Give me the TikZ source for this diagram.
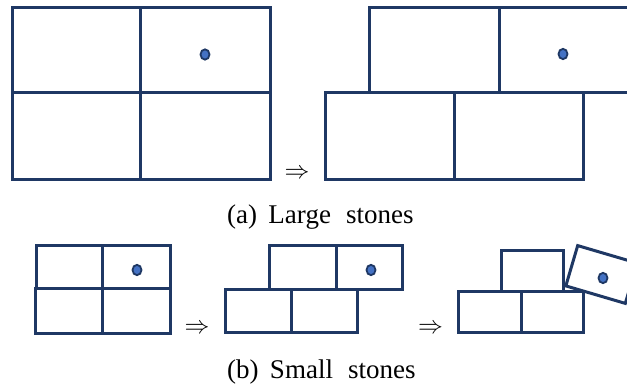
\documentclass[tikz,border=0pt]{standalone}
\usepackage{fontspec}
\setmainfont{Liberation Serif}
\definecolor{stoneline}{HTML}{1F3864}
\definecolor{markfill}{HTML}{4472C4}
\begin{document}
\begin{tikzpicture}[x=1pt,y=-1pt,
  stone/.style={draw=stoneline,line width=3pt,line join=miter},
  marker/.style={draw=stoneline,fill=markfill,line width=1.8pt},
  implies/.style={font=\fontsize{27}{30}\selectfont,inner sep=0pt},
  caption/.style={font=\fontsize{27}{30}\selectfont,inner sep=0pt,anchor=base west}]
\useasboundingbox (0,0) rectangle (627,390);

% (a) large stones: initial wall
\draw[stone] (12,8) rectangle (140.5,93);
\draw[stone] (140.5,8) rectangle (270,93);
\draw[stone] (12,93) rectangle (140.5,180);
\draw[stone] (140.5,93) rectangle (270,180);
\draw[marker] (205,54.5) ellipse [x radius=4.5pt, y radius=5.2pt];

\node[implies] (arrA) at (297,173.5) {$\Rightarrow$};

% (a) large stones: shifted wall
\draw[stone] (369,8) rectangle (499,93);
\draw[stone] (499,8) rectangle (629,93);
\draw[stone] (325,93) rectangle (454,180);
\draw[stone] (454,93) rectangle (583,180);
\draw[marker] (563,54) ellipse [x radius=4.5pt, y radius=5.2pt];

\node[caption] (capA) at (227,224) {(a)\hspace{0.42em}Large\hspace{0.56em}stones};

% (b) small stones: initial wall
\draw[stone] (36,246) rectangle (102,289);
\draw[stone] (102,246) rectangle (170,289);
\draw[stone] (35,289) rectangle (102,334);
\draw[stone] (102,289) rectangle (170,334);
\draw[marker] (137,270) ellipse [x radius=4.5pt, y radius=5.2pt];

\node[implies] (arrB1) at (197,329) {$\Rightarrow$};

% (b) small stones: shifted wall
\draw[stone] (269,246) rectangle (336,290);
\draw[stone] (336,246) rectangle (402,290);
\draw[stone] (225,290) rectangle (291,333);
\draw[stone] (291,290) rectangle (357,333);
\draw[marker] (371,270) ellipse [x radius=4.5pt, y radius=5.2pt];

\node[implies] (arrB2) at (430.5,329) {$\Rightarrow$};

% (b) small stones: the marked stone falls off
\draw[stone] (501,251) rectangle (563,292);
\draw[stone] (458,292) rectangle (521,333);
\draw[stone] (521,292) rectangle (583,333);
\draw[stone, rotate around={-16.4:(601.5,274.5)}] (570.5,253.5) rectangle (632.5,295.5);
\draw[marker] (603,278) ellipse [x radius=4.5pt, y radius=5.2pt];

\node[caption] (capB) at (227,378) {(b)\hspace{0.42em}Small\hspace{0.56em}stones};
\end{tikzpicture}
\end{document}
